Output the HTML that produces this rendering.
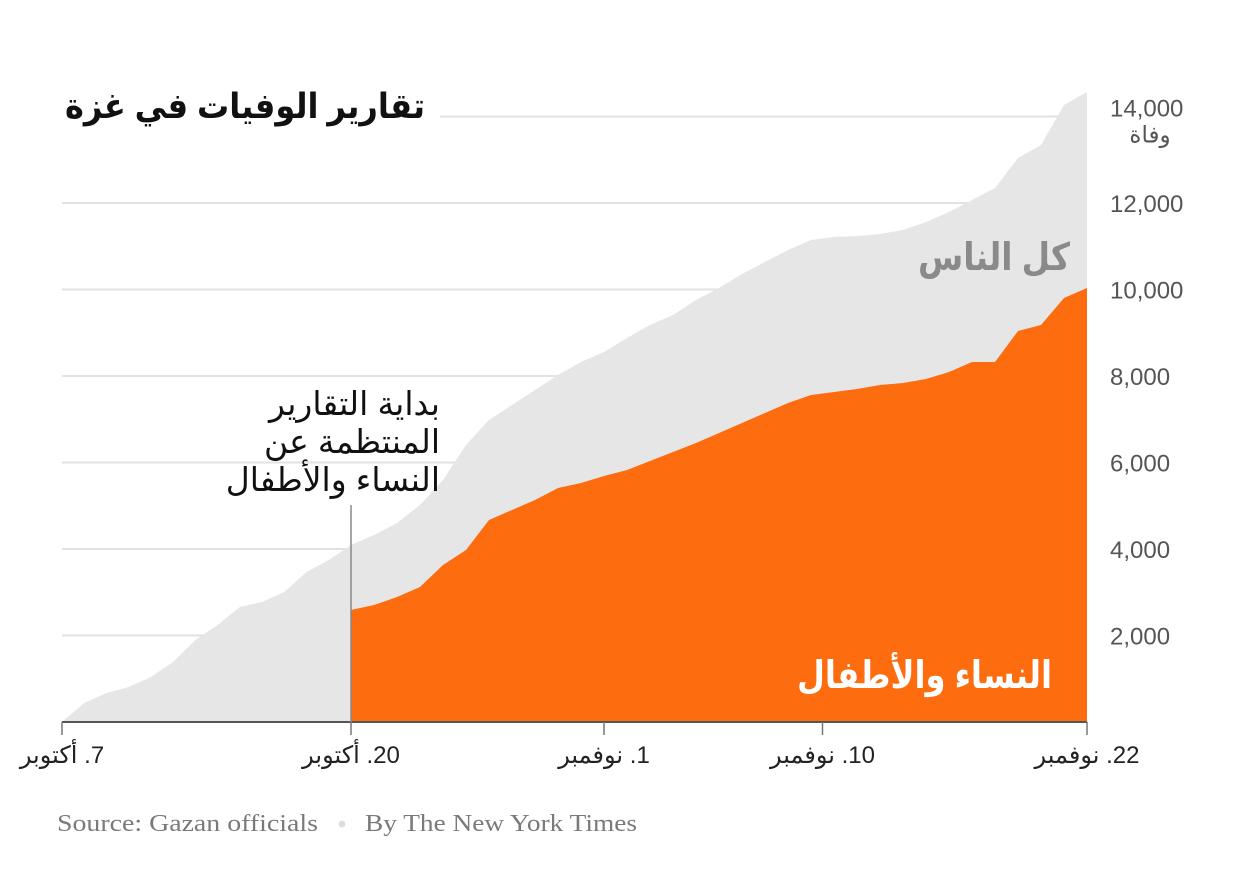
<!DOCTYPE html>
<html><head><meta charset="utf-8">
<style>
body{margin:0;background:#fff;width:1250px;height:882px;overflow:hidden}
svg{display:block}
text{font-family:"Liberation Sans","Noto Sans CJK SC","DejaVu Sans",sans-serif}
text.serif{font-family:"Liberation Serif",serif}
</style></head>
<body>
<svg id="chart" width="1250" height="882" viewBox="0 0 1250 882"></svg>
<script>
const totalDeaths=[0,439,671,809,1040,1387,1896,2243,2659,2775,3006,3468,3746,4092,4324,4601,5017,5595,6405,6983,7329,7676,8023,8324,8555,8879,9179,9410,9757,10035,10358,10636,10913,11145,11214,11237,11283,11376,11561,11792,12069,12347,13040,13341,14266,14566];
const womenChildrenStart=13;
const womenChildren=[2590,2705,2890,3121,3630,3977,4671,4902,5133,5410,5526,5688,5827,6035,6243,6451,6682,6913,7145,7376,7561,7630,7699,7792,7838,7931,8092,8324,8324,9040,9179,9803,10035];
const yTicks=[2000,4000,6000,8000,10000,12000,14000];
const yTickLabels=["2,000","4,000","6,000","8,000","10,000","12,000","14,000"];
const xTickDays=[0,13,24,33.5,45];
const xTickLabels=["7. أكتوبر","20. أكتوبر","1. نوفمبر","10. نوفمبر","22. نوفمبر"];

const svg=document.getElementById('chart');
const NS='http://www.w3.org/2000/svg';
const X0=62,XM=351,X1=1087,Y0=722,PX=0.04325;
const x=d=>d<=13?X0+d*(XM-X0)/13:XM+(d-13)*(X1-XM)/32;
const y=v=>Y0-v*PX;
function mk(tag,attrs,txt){const e=document.createElementNS(NS,tag);for(const k in attrs)e.setAttribute(k,attrs[k]);if(txt!=null)e.textContent=txt;svg.appendChild(e);return e;}

yTicks.forEach((v,i)=>{
  const g=mk('line',{x1:i==6?440:62,x2:X1,y1:y(v),y2:y(v),stroke:'#e2e2e2','stroke-width':2});
  
  
  const t=mk('text',{x:1110,y:y(v)+9-(i==6?9:0),'font-size':24,fill:'#555'},yTickLabels[i]);
  
  
});
const unit=mk('text',{x:1150,y:y(14000)+26,'font-size':23,fill:'#555','text-anchor':'middle'},'وفاة');



let d='M'+x(0)+','+Y0;
totalDeaths.forEach((v,i)=>{d+=' L'+x(i)+','+y(v);});
d+=' L'+x(totalDeaths.length-1)+','+Y0+' Z';
const ta=mk('path',{d:d,fill:'#e6e6e6'});



let d2='M'+x(womenChildrenStart)+','+Y0;
womenChildren.forEach((v,i)=>{d2+=' L'+x(womenChildrenStart+i)+','+y(v);});
d2+=' L'+x(womenChildrenStart+womenChildren.length-1)+','+Y0+' Z';
const wa=mk('path',{d:d2,fill:'#fd6c0f'});



const ax=mk('line',{x1:X0,x2:X1,y1:Y0,y2:Y0,stroke:'#555','stroke-width':2});


xTickDays.forEach((dd,i)=>{
  const tk=mk('line',{x1:x(dd),x2:x(dd),y1:Y0,y2:Y0+13,stroke:'#777','stroke-width':1.5});
  
  
  const t=mk('text',{x:x(dd),y:763,'font-size':24,fill:'#222','text-anchor':'middle',direction:'rtl'},xTickLabels[i]);
  
  
});

const al=mk('line',{x1:351,x2:351,y1:505,y2:722,stroke:'#888','stroke-width':1.5});


["بداية التقارير","المنتظمة عن","النساء والأطفال"].forEach((s,i)=>{
  const t=mk('text',{x:440,y:415+i*38,'font-size':33,fill:'#111','text-anchor':'start',direction:'rtl'},s);
  
  
});

const title=mk('text',{x:425,y:118,'font-size':35,'font-weight':'bold',fill:'#111','text-anchor':'start',direction:'rtl',textLength:360,lengthAdjust:'spacingAndGlyphs'},'تقارير الوفيات في غزة');


const l1=mk('text',{x:1070,y:270,'font-size':38,'font-weight':'bold',fill:'#8a8a8a','text-anchor':'start',direction:'rtl',textLength:152,lengthAdjust:'spacingAndGlyphs'},'كل الناس');


const l2=mk('text',{x:1052,y:688,'font-size':38,'font-weight':'bold',fill:'#fff','text-anchor':'start',direction:'rtl',textLength:255,lengthAdjust:'spacingAndGlyphs'},'النساء والأطفال');



const src=mk('text',{x:57,y:831,'font-size':24,fill:'#7a7a7a','class':'serif',textLength:261,lengthAdjust:'spacingAndGlyphs'},'Source: Gazan officials');


const dot=mk('circle',{cx:342,cy:824,r:3.5,fill:'#ddd'});


const by=mk('text',{x:365,y:831,'font-size':24,fill:'#7a7a7a','class':'serif',textLength:272,lengthAdjust:'spacingAndGlyphs'},'By The New York Times');


</script>
</body></html>
